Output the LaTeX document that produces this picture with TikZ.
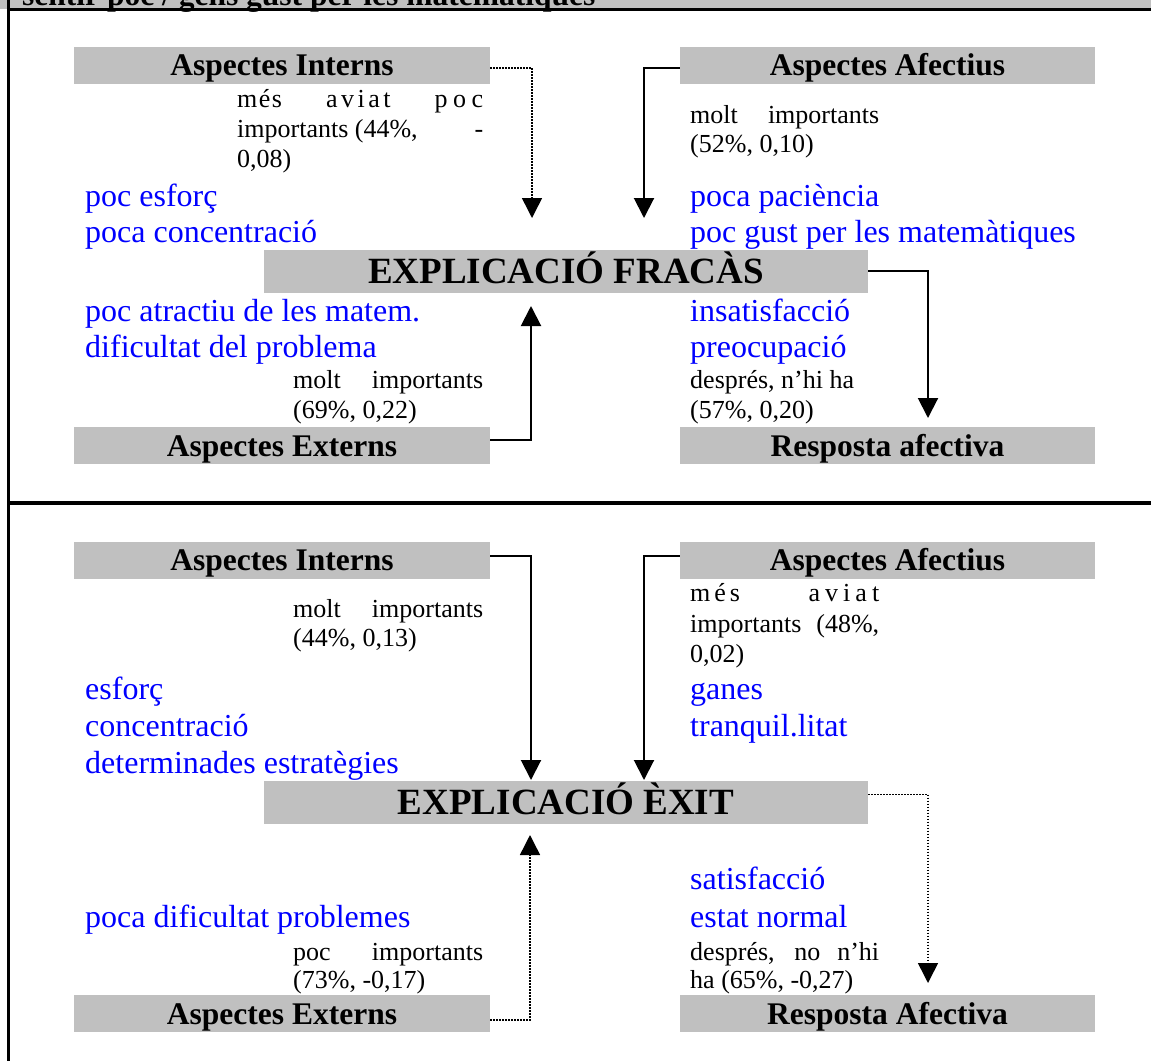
\documentclass[tikz,border=0pt]{standalone}
\usepackage{fontspec}
\setmainfont{Liberation Serif}
\usetikzlibrary{arrows.meta}
\definecolor{cellgrey}{RGB}{192,192,192}
\definecolor{itemblue}{RGB}{0,0,255}

\begin{document}
\begin{tikzpicture}[x=1pt,y=-1pt,
  hdr/.style={fill=cellgrey, inner sep=0pt, minimum width=416pt, minimum height=37pt,
    text height=26pt, text depth=5pt, font=\bfseries\fontsize{31.5}{36}\selectfont},
  title/.style={fill=cellgrey, inner sep=0pt, minimum width=604pt, minimum height=43pt,
    text height=30pt, text depth=6pt, font=\bfseries\fontsize{37}{42}\selectfont},
  item/.style={anchor=base west, inner sep=0pt, text=itemblue, font=\fontsize{32}{37}\selectfont},
  note/.style={anchor=base west, inner sep=0pt, font=\fontsize{26}{30}\selectfont},
  link/.style={line width=2pt, -{Triangle[length=20pt,width=20pt]}},
  dotlink/.style={link, line width=1.5pt, dash pattern=on 1.5pt off 1.5pt},
]
\path[use as bounding box, clip] (0,0) rectangle (1151,1061);

% heading strip and frame
\fill[cellgrey] (0,0) rectangle (1151,8.5);
\node[anchor=base west, inner sep=0pt, font=\bfseries\fontsize{31.5}{36}\selectfont] (topic) at (22,5)
  {sentir poc / gens gust per les matemàtiques};
\draw[line width=3pt] (8,9.7) -- (1151,9.7);
\draw[line width=2.5pt] (8.7,0) -- (8.7,1061);
\draw[line width=4pt] (8,503) -- (1151,503);

% ---------- failure panel ----------
\node[hdr] (intA) at (282,65) {Aspectes Interns};
\node[hdr, minimum width=415pt] (afeA) at (887.5,65) {Aspectes Afectius};
\node[title] (fail) at (566,271) {EXPLICACIÓ FRACÀS};
\node[hdr] (extA) at (282,445.5) {Aspectes Externs};
\node[hdr, minimum width=415pt] (respA) at (887.5,445.5) {Resposta afectiva};

\node[note] (intAn1) at (237,107) {\makebox[246pt][s]{m\kern1.5pt é\kern1.5pt s\hfil a\kern3.5pt v\kern3.5pt i\kern3.5pt a\kern3.5pt t\hfil p\kern5.5pt o\kern5.5pt c}};
\node[note] (intAn2) at (237,137) {\makebox[246pt][s]{importants (44\%,\hfill-}};
\node[note] (intAn3) at (237,167) {0,08)};
\node[note] (afeAn1) at (690,123) {\makebox[189pt][s]{molt importants}};
\node[note] (afeAn2) at (690,152) {(52\%, 0,10)};

\node[item] (intAi1) at (85,206) {poc esforç};
\node[item] (intAi2) at (85,242) {poca concentració};
\node[item] (afeAi1) at (690,206) {poca paciència};
\node[item] (afeAi2) at (690,242) {poc gust per les matemàtiques};
\node[item] (extAi1) at (85,321) {poc atractiu de les matem.};
\node[item] (extAi2) at (85,357) {dificultat del problema};
\node[note] (extAn1) at (293,388) {\makebox[190pt][s]{molt importants}};
\node[note] (extAn2) at (293,418) {(69\%, 0,22)};
\node[item] (respAi1) at (690,321) {insatisfacció};
\node[item] (respAi2) at (690,357) {preocupació};
\node[note] (respAn1) at (690,388) {després, n’hi ha};
\node[note] (respAn2) at (690,418) {(57\%, 0,20)};

\coordinate (tipIA) at (532,218);
\coordinate (tipAA) at (644,218);
\coordinate (tipEA) at (531,306);
\coordinate (tipRA) at (928,418);
\draw[dotlink] ([yshift=-3pt]intA.east) -| (tipIA);
\draw[link] ([yshift=-3pt]afeA.west) -| (tipAA);
\draw[link] ([yshift=6pt]extA.east) -| (tipEA);
\draw[link] (fail.east) -| (tipRA);

% ---------- success panel ----------
\node[hdr] (intB) at (282,560) {Aspectes Interns};
\node[hdr, minimum width=415pt] (afeB) at (887.5,560) {Aspectes Afectius};
\node[title] (succ) at (566,802.5) {EXPLICACIÓ ÈXIT};
\node[hdr] (extB) at (282,1013.5) {Aspectes Externs};
\node[hdr, minimum width=415pt] (respB) at (887.5,1013.5) {Resposta Afectiva};

\node[note] (intBn1) at (293,617) {\makebox[190pt][s]{molt importants}};
\node[note] (intBn2) at (293,646) {(44\%, 0,13)};
\node[note] (afeBn1) at (690,601) {\makebox[189pt][s]{m\kern4pt é\kern4pt s\hfil a\kern5pt v\kern5pt i\kern5pt a\kern5pt t}};
\node[note] (afeBn2) at (690,632) {\makebox[189pt][s]{importants (48\%,}};
\node[note] (afeBn3) at (690,662) {0,02)};

\node[item] (intBi1) at (85,699) {esforç};
\node[item] (intBi2) at (85,736) {concentració};
\node[item] (intBi3) at (85,773) {determinades estratègies};
\node[item] (afeBi1) at (690,699) {ganes};
\node[item] (afeBi2) at (690,736) {tranquil.litat};
\node[item] (extBi1) at (85,927) {poca dificultat problemes};
\node[note] (extBn1) at (293,960) {\makebox[190pt][s]{poc importants}};
\node[note] (extBn2) at (293,988) {(73\%, -0,17)};
\node[item] (respBi1) at (690,889) {satisfacció};
\node[item] (respBi2) at (690,927) {estat normal};
\node[note] (respBn1) at (690,960) {\makebox[189pt][s]{després, no n’hi}};
\node[note] (respBn2) at (690,988) {ha (65\%, -0,27)};

\coordinate (tipIB) at (531,780);
\coordinate (tipAB) at (644,780);
\coordinate (tipEB) at (530,835);
\coordinate (tipRB) at (928,983);
\draw[link] ([yshift=4pt]intB.east) -| (tipIB);
\draw[link] ([yshift=4pt]afeB.west) -| (tipAB);
\draw[dotlink] ([yshift=-6.5pt]extB.east) -| (tipEB);
\draw[dotlink] ([yshift=8pt]succ.east) -| (tipRB);
\end{tikzpicture}
\end{document}
